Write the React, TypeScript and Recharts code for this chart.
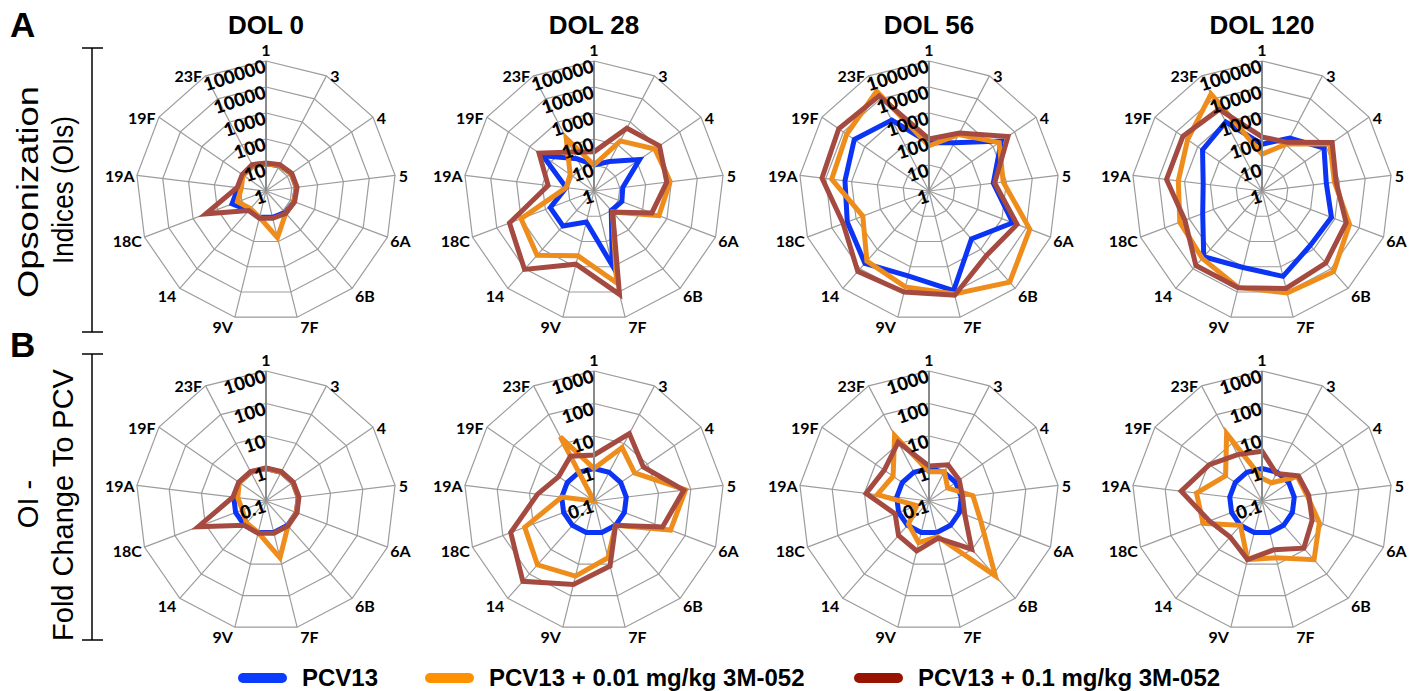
import React from "react";
import { RadarChart, PolarGrid, PolarAngleAxis, PolarRadiusAxis, Radar } from "recharts";

const serotypes = ["1", "3", "4", "5", "6A", "6B", "7F", "9V", "14", "18C", "19A", "19F", "23F"];
const timepoints = ["DOL 0", "DOL 28", "DOL 56", "DOL 120"];
const seriesNames = ["PCV13", "PCV13 + 0.01 mg/kg 3M-052", "PCV13 + 0.1 mg/kg 3M-052"];
const lineColors = ["#0b34f4", "#ee8c1c", "#a54a40"];
const legendColors = ["#0a3cff", "#ff9000", "#981400"];

// row A: opsonization indices, one list per time point (serotype order above)
const oiPcv13 = [
  [11, 13, 15, 15, 14, 13, 11, 11, 10, 25, 12, 12, 13],
  [10, 19, 135, 13, 14, 10, 900, 17, 63, 63, 12, 240, 25],
  [72, 125, 2400, 310, 2800, 290, 8900, 2300, 5200, 2300, 1800, 3100, 1200],
  [63, 200, 790, 310, 720, 630, 2400, 1070, 2400, 275, 190, 600, 1000],
];
const oiLowDose = [
  [11, 13, 15, 15, 14, 14, 70, 11, 8, 15, 9, 12, 13],
  [10, 150, 700, 890, 470, 12, 4300, 370, 2000, 1000, 12, 13, 200],
  [55, 280, 1900, 750, 14000, 48000, 12000, 6300, 4000, 530, 5900, 7000, 21500],
  [26, 110, 1500, 640, 4000, 14000, 11000, 6600, 2900, 2400, 1750, 3000, 16500],
];
const oiHighDose = [
  [12, 14, 16, 16, 15, 14, 12, 12, 10, 300, 13, 13, 14],
  [32, 530, 1150, 660, 240, 12, 12500, 790, 10700, 3000, 60, 370, 50],
  [100, 330, 4900, 350, 4200, 2100, 13500, 10000, 13500, 3400, 14000, 16500, 13500],
  [120, 130, 1900, 750, 2900, 5000, 7200, 6800, 6800, 1480, 5000, 5000, 3500],
];

// row B: OI fold change to PCV13
const fcPcv13 = [
  [1, 1, 1, 1, 1, 1, 1, 1, 1, 1, 1, 1, 1],
  [1, 1, 1, 1, 1, 1, 1, 1, 1, 1, 1, 1, 1],
  [1, 1, 1, 1, 1, 1, 1, 1, 1, 1, 1, 1, 1],
  [1, 1, 1, 1, 1, 1, 1, 1, 1, 1, 1, 1, 1],
];
const fcLowDose = [
  [1, 1, 1, 1, 1, 1.05, 6.3, 1, 0.8, 0.6, 0.75, 1, 1],
  [1, 7.2, 3.3, 69, 33, 1, 6.3, 24, 42, 19, 1, 0.1, 17],
  [0.8, 1.05, 0.5, 2.3, 5, 120, 1.35, 2.1, 0.9, 0.25, 4, 2.2, 19],
  [0.5, 0.43, 2.1, 2.5, 7.7, 26, 6.3, 7.2, 1, 8.7, 10.7, 2.3, 22],
];
const fcHighDose = [
  [1.05, 1.05, 1.05, 1.05, 1.05, 1.05, 1.05, 1.05, 1, 17, 1.05, 1.05, 1.05],
  [2.6, 22, 7, 61, 18, 1, 11.5, 44, 200, 55, 5.6, 2.1, 3.6],
  [1.2, 1.8, 1.35, 1.1, 1.5, 9.6, 1.5, 3.8, 2.6, 1.3, 8.9, 4.7, 11],
  [3.4, 0.9, 2.3, 2.8, 4.5, 8.7, 3.5, 7.2, 3, 5.4, 32, 9.3, 4.1],
];

const W = 380, H = 340, CX = 190, CY = 170, R = 130;
const colX = [266, 594, 929, 1262];
const rowY = [191, 501];
const rows = [
  { series: [oiPcv13, oiLowDose, oiHighDose], domain: [0, 5], ticks: 6 },
  { series: [fcPcv13, fcLowDose, fcHighDose], domain: [-1, 3], ticks: 5 },
];
const keys = ["pcv", "low", "high"];

const labelFont = "Lato, 'Open Sans', sans-serif";
const arial = "'Liberation Sans', Arial, sans-serif";

function AngleTick(props: any) {
  const label = String(props.payload?.value ?? "");
  const i = serotypes.indexOf(label);
  const a = ((90 - (i * 360) / serotypes.length) * Math.PI) / 180;
  const dx = Math.cos(a), dy = -Math.sin(a);
  const vx = CX + R * dx, vy = CY + R * dy;
  const w = label.length * 8.8, h = 15;
  const xo = Math.sign(dx) * (w / 2 + 4) * Math.min(1, Math.abs(dx) * 4);
  const yo = dy > 0 ? dy * (h / 2 + 2) : dy * (h / 2 + 4) * Math.max(0, 1 - Math.abs(dx) * 2);
  return (
    <text x={vx + xo} y={vy + yo} textAnchor="middle" dominantBaseline="central"
      fontFamily={labelFont} fontWeight={700} fontSize={16} fill="#000">
      {label}
    </text>
  );
}

function RadiusTick(props: any) {
  const { x, y, payload } = props;
  const tx = x - 1, ty = y + 4;
  return (
    <text x={tx} y={ty} textAnchor="end" dominantBaseline="central" transform={`rotate(-18 ${tx} ${ty})`}
      fontFamily={labelFont} fontWeight={900} fontSize={18.5} fill="#000">
      {String(10 ** payload.value)}
    </text>
  );
}

function Panel({ row, col }: { row: number; col: number }) {
  const cfg = rows[row];
  const data = serotypes.map((s, i) => {
    const d: any = { serotype: s };
    cfg.series.forEach((ser, k) => (d[keys[k]] = Math.log10(ser[col][i])));
    return d;
  });
  return (
    <div style={{ position: "absolute", left: colX[col] - CX, top: rowY[row] - CY, width: W, height: H }}>
      <RadarChart width={W} height={H} cx={CX} cy={CY} outerRadius={R} data={data}
        margin={{ top: 0, right: 0, bottom: 0, left: 0 }} style={{ overflow: "visible" }}>
        <PolarGrid gridType="polygon" stroke="#9c9c9c" strokeWidth={1.2} />
        <PolarAngleAxis dataKey="serotype" tick={<AngleTick />} tickLine={false} axisLine={false} />
        <PolarRadiusAxis angle={90} type="number" domain={cfg.domain} tickCount={cfg.ticks}
          tick={<RadiusTick />} axisLine={{ stroke: "#8a8a8a", strokeWidth: 2 }} tickLine={false} />
        {keys.map((k, s) => (
          <Radar key={k} name={seriesNames[s]} dataKey={k} stroke={lineColors[s]} strokeWidth={5}
            fill="none" fillOpacity={0} dot={false} isAnimationActive={false} />
        ))}
      </RadarChart>
    </div>
  );
}

const legendX = [238, 425, 854];

export default function App() {
  return (
    <div style={{ position: "absolute", left: 0, top: 0, width: 1421, height: 691, background: "#fff" }}>
      <svg width={1421} height={691} style={{ position: "absolute", left: 0, top: 0 }}>
        <text x={10} y={37} fontFamily={arial} fontWeight={700} fontSize={35}>A</text>
        <text x={10} y={357} fontFamily={arial} fontWeight={700} fontSize={35}>B</text>
        {timepoints.map((t, i) => (
          <text key={t} x={colX[i]} y={34} textAnchor="middle" fontFamily={arial} fontWeight={700} fontSize={26}>{t}</text>
        ))}
        <g stroke="#000" strokeWidth={1.5}>
          <line x1={92} y1={48} x2={92} y2={332} />
          <line x1={82} y1={48} x2={103} y2={48} />
          <line x1={82} y1={332} x2={103} y2={332} />
          <line x1={92} y1={354} x2={92} y2={640} />
          <line x1={82} y1={354} x2={103} y2={354} />
          <line x1={82} y1={640} x2={103} y2={640} />
        </g>
        <g fontFamily={arial} fontSize={29} textAnchor="middle">
          <text transform="translate(38 192) rotate(-90)" textLength={212} lengthAdjust="spacingAndGlyphs">Opsonization</text>
          <text transform="translate(73 190) rotate(-90)" textLength={148} lengthAdjust="spacingAndGlyphs">Indices (OIs)</text>
          <text transform="translate(38 504) rotate(-90)">OI -</text>
          <text transform="translate(73 505) rotate(-90)">Fold Change To PCV</text>
        </g>
        {seriesNames.map((n, i) => (
          <g key={n}>
            <line x1={legendX[i] + 5} y1={678} x2={legendX[i] + 44} y2={678} stroke={legendColors[i]}
              strokeWidth={10} strokeLinecap="round" />
            <text x={legendX[i] + 64} y={686} fontFamily={arial} fontWeight={700} fontSize={24}>{n}</text>
          </g>
        ))}
      </svg>
      {rows.map((_, r) => timepoints.map((_, c) => <Panel key={`${r}-${c}`} row={r} col={c} />))}
    </div>
  );
}
